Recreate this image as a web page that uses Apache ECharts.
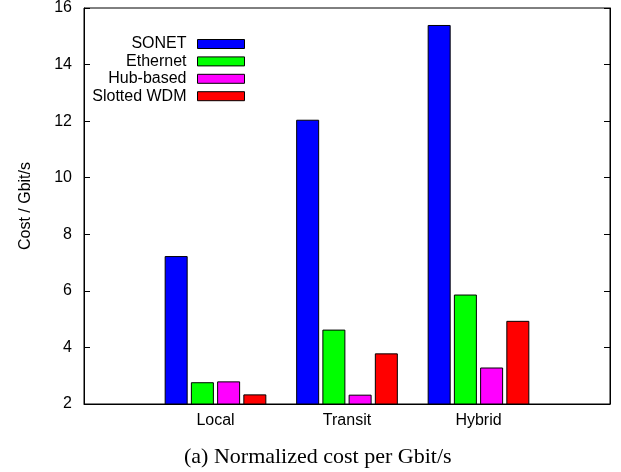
<!DOCTYPE html>
<html>
<head>
<meta charset="utf-8">
<script src="https://cdn.jsdelivr.net/npm/echarts@6/dist/echarts.min.js"></script>
<style>html,body{margin:0;padding:0;background:#fff}#c{width:621px;height:472px}</style>
</head>
<body>
<div id="c"></div>
<script>
const categories = ['Local', 'Transit', 'Hybrid'];
const seriesNames = ['SONET', 'Ethernet', 'Hub-based', 'Slotted WDM'];
const sonet = [7.23, 12.05, 15.4];
const ethernet = [2.77, 4.63, 5.87];
const hubBased = [2.80, 2.33, 3.29];
const slottedWdm = [2.34, 3.79, 4.94];
const yTicks = [2, 4, 6, 8, 10, 12, 14, 16];
const colors = ['#0000ff', '#00ff00', '#ff00ff', '#ff0000'];

const pad = arr => [null].concat(arr, [null]);
const axisCats = [''].concat(categories, ['']);
const allValues = [sonet, ethernet, hubBased, slottedWdm];
const font = 'Liberation Sans, Arial, Helvetica, sans-serif';

const chart = echarts.init(document.getElementById('c'), null, {renderer: 'canvas'});
chart.setOption({
  animation: false,
  backgroundColor: '#fff',
  title: {
    text: '(a) Normalized cost per Gbit/s',
    left: 184, top: 446, padding: 0,
    textStyle: {fontFamily: 'Liberation Serif, Times New Roman, serif', fontSize: 22, fontWeight: 'normal', color: '#000'}
  },
  legend: {
    data: seriesNames,
    orient: 'vertical',
    align: 'right',
    right: 376, top: 36, padding: 0,
    itemWidth: 47, itemHeight: 9, itemGap: 1.4,
    icon: 'rect',
    itemStyle: {borderColor: '#000', borderWidth: 1},
    textStyle: {fontFamily: font, fontSize: 16, color: '#000', lineHeight: 16, padding: [0, 6, 0, 0]}
  },
  grid: {left: 84, right: 11, top: 7, bottom: 68, show: true, borderColor: '#000', borderWidth: 1, backgroundColor: 'transparent'},
  xAxis: {
    type: 'category', data: axisCats, boundaryGap: false,
    axisLine: {show: true, lineStyle: {color: '#000', width: 1}},
    axisTick: {show: false},
    axisLabel: {fontFamily: font, fontSize: 16, color: '#000', margin: 9, interval: 0},
    splitLine: {show: false}
  },
  yAxis: [{
    type: 'value', min: yTicks[0], max: yTicks[yTicks.length - 1], interval: 2,
    name: 'Cost / Gbit/s', nameLocation: 'middle', nameGap: 50,
    nameTextStyle: {fontFamily: font, fontSize: 16, color: '#000'},
    axisLine: {show: true, lineStyle: {color: '#000'}},
    axisTick: {show: true, inside: true, length: 6, lineStyle: {color: '#000'}},
    axisLabel: {fontFamily: font, fontSize: 16, color: '#000', margin: 12},
    splitLine: {show: false}
  }, {
    type: 'value', position: 'right', min: yTicks[0], max: yTicks[yTicks.length - 1], interval: 2,
    axisLine: {show: true, lineStyle: {color: '#000'}},
    axisTick: {show: true, inside: true, length: 6, lineStyle: {color: '#000'}},
    axisLabel: {show: false},
    splitLine: {show: false}
  }],
  series: seriesNames.map((name, i) => ({
    name, type: 'bar', data: pad(allValues[i]),
    barWidth: 23, barGap: '14%',
    itemStyle: {color: colors[i], borderColor: '#000', borderWidth: 1}
  }))
});
</script>
</body>
</html>
